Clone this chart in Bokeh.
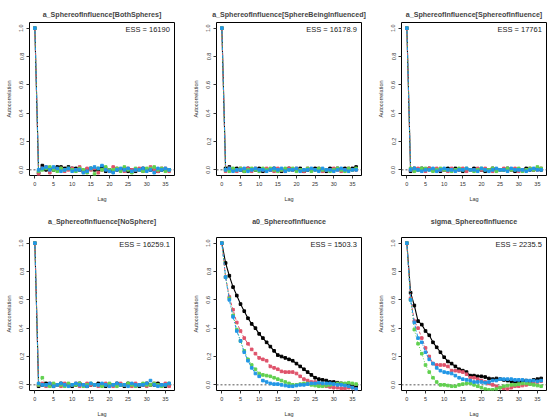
from bokeh.plotting import figure
from bokeh.layouts import row, column
from bokeh.models import Range1d, FixedTicker, PrintfTickFormatter, Span, Label, Title
from bokeh.embed import file_html
from bokeh.resources import INLINE

lags = list(range(37))

titles = ["a_SphereofInfluence[BothSpheres]", "a_SphereofInfluence[SphereBeingInfluenced]",
          "a_SphereofInfluence[SphereofInfluence]", "a_SphereofInfluence[NoSphere]",
          "a0_SphereofInfluence", "sigma_SphereofInfluence"]
ess_labels = ["ESS = 16190", "ESS = 16178.9", "ESS = 17761",
              "ESS = 16259.1", "ESS = 1503.3", "ESS = 2235.5"]

blk1 = [1.00, -0.02, 0.03, 0.00, 0.01, 0.00, 0.02, 0.02, 0.01, 0.02,
        0.01, 0.01, 0.00, -0.01, 0.00, 0.01, 0.00, 0.00, 0.02, -0.01,
        0.00, -0.01, 0.00, 0.00, 0.01, -0.01, 0.00, -0.01, 0.00, 0.01,
        0.00, 0.00, 0.00, -0.01, 0.00, 0.00, 0.00]
red1 = [1.00, -0.03, 0.01, 0.02, -0.02, 0.01, 0.00, 0.01, -0.01, 0.00,
        0.01, 0.00, 0.02, -0.01, 0.01, 0.00, 0.01, -0.02, 0.00, 0.01,
        -0.01, 0.02, 0.01, 0.00, -0.01, 0.01, 0.00, 0.00, 0.01, -0.01,
        0.00, 0.02, 0.00, -0.01, 0.01, 0.01, -0.01]
grn1 = [1.00, -0.01, 0.00, 0.01, 0.02, 0.00, -0.01, 0.01, 0.00, 0.01,
        0.00, -0.01, 0.01, 0.00, -0.02, 0.01, -0.03, 0.01, 0.00, 0.02,
        0.00, 0.00, 0.01, -0.01, 0.02, 0.00, -0.02, 0.01, 0.00, -0.01,
        0.01, 0.01, 0.02, 0.00, 0.01, -0.01, 0.00]
blu1 = [1.00, 0.00, 0.01, 0.02, 0.00, 0.02, 0.01, -0.01, 0.00, 0.01,
        -0.01, 0.00, 0.00, -0.02, -0.01, 0.01, 0.02, 0.01, 0.03, 0.00,
        -0.01, -0.02, 0.00, 0.01, 0.00, 0.01, -0.01, 0.00, 0.00, 0.01,
        -0.01, 0.00, -0.02, 0.01, 0.00, 0.01, 0.00]

blk2 = [1.00, 0.01, 0.02, 0.00, 0.01, 0.00, -0.01, 0.01, 0.00, 0.00,
        0.01, -0.01, 0.00, 0.00, 0.01, 0.00, -0.01, 0.00, 0.01, 0.00,
        0.00, 0.01, -0.01, 0.00, 0.00, 0.01, 0.00, 0.00, -0.01, 0.01,
        0.00, 0.01, 0.00, 0.01, 0.00, 0.01, 0.02]
red2 = [1.00, -0.01, 0.01, 0.00, -0.01, 0.01, 0.00, 0.01, -0.01, 0.01,
        0.00, 0.00, 0.01, 0.00, -0.01, 0.01, 0.00, -0.01, 0.01, 0.00,
        0.01, 0.00, -0.01, 0.01, 0.00, 0.00, 0.01, -0.01, 0.00, 0.00,
        0.01, 0.00, -0.01, 0.00, 0.01, 0.00, 0.00]
grn2 = [1.00, 0.00, -0.01, 0.01, 0.00, 0.01, -0.01, 0.00, 0.01, 0.00,
        -0.01, 0.01, 0.00, 0.01, 0.00, -0.01, 0.00, 0.01, 0.00, 0.01,
        -0.01, 0.00, 0.00, 0.01, -0.01, 0.00, 0.01, 0.00, 0.00, -0.01,
        0.00, 0.01, 0.00, -0.01, 0.01, 0.00, 0.01]
blu2 = [1.00, 0.00, 0.01, -0.01, 0.00, 0.00, 0.01, -0.01, 0.00, 0.01,
        0.00, 0.00, -0.01, 0.00, 0.01, 0.00, 0.01, -0.01, 0.00, 0.00,
        0.01, -0.01, 0.00, 0.00, 0.01, 0.00, -0.01, 0.01, 0.00, 0.00,
        -0.01, 0.00, 0.01, 0.00, -0.01, 0.00, 0.00]

blk3 = [1.00, -0.01, 0.01, 0.00, 0.01, 0.00, 0.01, 0.00, 0.00, -0.01,
        0.00, 0.01, 0.00, 0.01, 0.00, -0.01, 0.00, 0.00, 0.01, 0.00,
        0.00, -0.01, 0.00, 0.01, 0.00, 0.00, 0.00, 0.01, 0.00, -0.01,
        0.00, 0.00, 0.01, 0.00, 0.00, 0.01, 0.00]
red3 = [1.00, 0.00, 0.00, 0.01, 0.00, -0.01, 0.01, 0.00, 0.01, 0.00,
        0.00, -0.01, 0.01, 0.00, 0.00, 0.01, -0.01, 0.00, 0.00, 0.01,
        0.00, 0.01, 0.00, -0.01, 0.00, 0.00, 0.01, 0.00, 0.00, 0.01,
        -0.01, 0.00, 0.00, 0.01, 0.00, 0.00, 0.01]
grn3 = [1.00, 0.01, -0.01, 0.00, 0.01, 0.01, 0.00, -0.01, 0.00, 0.01,
        0.00, 0.00, -0.01, 0.00, 0.01, 0.00, 0.01, 0.00, -0.01, 0.00,
        0.01, 0.00, 0.00, 0.01, -0.01, 0.00, 0.00, 0.01, 0.00, 0.00,
        0.01, -0.01, 0.00, 0.01, 0.00, 0.02, 0.01]
blu3 = [1.00, 0.00, 0.01, 0.00, -0.01, 0.00, 0.00, 0.01, -0.01, 0.00,
        0.01, 0.00, 0.00, -0.01, 0.00, 0.00, 0.01, 0.00, 0.00, -0.01,
        0.01, 0.00, -0.01, 0.00, 0.01, 0.00, 0.00, -0.01, 0.01, 0.00,
        0.00, 0.00, -0.01, 0.00, 0.01, 0.00, 0.00]

blk4 = [1.00, -0.01, 0.00, 0.01, 0.00, -0.01, 0.00, 0.01, 0.00, 0.00,
        -0.01, 0.00, 0.01, 0.00, -0.01, 0.00, 0.00, 0.01, 0.00, -0.01,
        0.00, 0.00, 0.01, 0.00, -0.01, 0.01, 0.00, 0.00, -0.01, 0.00,
        0.01, 0.00, 0.00, 0.01, 0.00, -0.01, 0.00]
red4 = [1.00, 0.00, 0.01, -0.01, 0.01, 0.00, 0.00, -0.01, 0.01, 0.00,
        0.00, 0.01, -0.01, 0.00, 0.01, 0.00, 0.00, -0.01, 0.00, 0.01,
        0.00, -0.01, 0.00, 0.01, 0.00, 0.00, -0.01, 0.01, 0.00, 0.00,
        -0.01, 0.00, 0.01, 0.00, 0.00, 0.01, -0.01]
grn4 = [1.00, 0.00, 0.05, 0.00, -0.01, 0.01, 0.00, 0.00, -0.01, 0.01,
        0.00, 0.00, 0.01, -0.01, 0.00, 0.01, 0.00, 0.00, -0.01, 0.00,
        0.01, 0.00, -0.01, 0.00, 0.00, 0.01, 0.00, -0.01, 0.00, 0.01,
        0.00, 0.00, 0.01, 0.00, -0.01, 0.00, 0.01]
blu4 = [1.00, 0.01, 0.00, 0.00, 0.01, -0.01, 0.00, 0.01, 0.00, -0.01,
        0.00, 0.01, 0.00, 0.00, -0.01, 0.01, 0.00, 0.00, 0.01, 0.00,
        -0.01, 0.00, 0.01, 0.00, 0.00, -0.01, 0.01, 0.00, 0.00, 0.00,
        0.01, 0.03, 0.00, -0.01, 0.00, 0.00, 0.01]

blk5 = [1.00, 0.86, 0.77, 0.69, 0.63, 0.57, 0.52, 0.47, 0.43, 0.40,
        0.36, 0.33, 0.30, 0.27, 0.24, 0.21, 0.20, 0.19, 0.18, 0.17,
        0.15, 0.13, 0.11, 0.09, 0.07, 0.05, 0.04, 0.035, 0.03, 0.02,
        0.02, 0.015, 0.01, 0.005, 0.00, -0.01, -0.015]
red5 = [1.00, 0.76, 0.62, 0.53, 0.44, 0.38, 0.33, 0.29, 0.25, 0.22,
        0.19, 0.18, 0.17, 0.13, 0.12, 0.11, 0.095, 0.09, 0.09, 0.09,
        0.08, 0.06, 0.04, 0.03, 0.02, 0.02, 0.01, 0.00, -0.01, -0.015,
        -0.02, -0.02, -0.025, -0.025, -0.02, -0.02, -0.03]
grn5 = [1.00, 0.76, 0.61, 0.49, 0.39, 0.31, 0.24, 0.18, 0.14, 0.11,
        0.08, 0.07, 0.065, 0.06, 0.05, 0.04, 0.03, 0.02, 0.01, 0.00,
        0.00, 0.005, 0.01, 0.01, 0.00, -0.005, -0.01, -0.01, -0.005, 0.00,
        0.005, 0.01, 0.01, 0.01, 0.015, 0.01, 0.005]
blu5 = [1.00, 0.76, 0.60, 0.48, 0.38, 0.31, 0.23, 0.17, 0.12, 0.08,
        0.06, 0.03, 0.02, 0.01, 0.005, 0.005, 0.00, -0.005, -0.01, -0.01,
        -0.005, 0.00, 0.00, 0.005, 0.01, 0.01, 0.015, 0.01, 0.01, 0.01,
        0.005, 0.00, 0.00, -0.005, -0.01, -0.02, -0.03]

blk6 = [1.00, 0.65, 0.56, 0.45, 0.425, 0.38, 0.35, 0.30, 0.265, 0.23,
        0.195, 0.165, 0.15, 0.13, 0.11, 0.10, 0.09, 0.065, 0.065, 0.06,
        0.06, 0.055, 0.045, 0.04, 0.045, 0.04, 0.035, 0.03, 0.025, 0.02,
        0.02, 0.025, 0.03, 0.025, 0.035, 0.04, 0.045]
red6 = [1.00, 0.61, 0.45, 0.40, 0.33, 0.26, 0.20, 0.15, 0.14, 0.14,
        0.14, 0.13, 0.10, 0.10, 0.095, 0.09, 0.075, 0.05, 0.05, 0.04,
        0.03, 0.02, 0.01, 0.00, -0.01, -0.02, -0.025, -0.03, -0.02, -0.01,
        -0.01, -0.005, 0.00, 0.005, 0.01, 0.02, 0.025]
grn6 = [1.00, 0.60, 0.39, 0.29, 0.22, 0.14, 0.09, 0.05, 0.02, 0.00,
        0.00, -0.005, -0.01, -0.01, 0.00, 0.005, 0.01, 0.01, 0.00, -0.01,
        -0.02, -0.03, -0.035, -0.035, -0.03, -0.02, -0.01, -0.005, 0.00, 0.00,
        0.005, 0.01, 0.01, 0.005, 0.00, -0.005, -0.01]
blu6 = [1.00, 0.60, 0.44, 0.33, 0.30, 0.23, 0.18, 0.15, 0.12, 0.10,
        0.09, 0.085, 0.08, 0.065, 0.05, 0.04, 0.035, 0.03, 0.02, 0.02,
        0.02, 0.015, 0.02, 0.03, 0.03, 0.04, 0.04, 0.04, 0.04, 0.035,
        0.035, 0.035, 0.03, 0.03, 0.03, 0.025, 0.03]

panels = [(blk1, red1, grn1, blu1), (blk2, red2, grn2, blu2), (blk3, red3, grn3, blu3),
          (blk4, red4, grn4, blu4), (blk5, red5, grn5, blu5), (blk6, red6, grn6, blu6)]

chain_colors = ["black", "#DF536B", "#61D04F", "#2297E6"]
chain_dash = ["solid", "3 2", "1 2", "1 2 3 2"]
chain_width = [1.1, 1, 1, 1]

FONT = "Liberation Sans"
FW, FH = 145, 153
col_borders = [(29, 10), (32, 5), (35, 2)]
row_borders = [(22, 35), (27, 28)]


def make_panel(i):
    r, c = divmod(i, 3)
    bl, br = col_borders[c]
    bt, bb = row_borders[r]
    p = figure(frame_width=FW, frame_height=FH, output_backend="svg", toolbar_location=None,
               x_range=Range1d(-1.44, 37.44), y_range=Range1d(-0.04, 1.04),
               min_border_left=bl, min_border_right=br, min_border_top=bt, min_border_bottom=bb,
               title=titles[i])
    p.title.text_font = FONT
    p.title.text_font_size = "7.1px"
    p.title.text_font_style = "bold"
    p.title.align = "center"
    p.title.standoff = 8
    if r == 1:
        p.add_layout(Title(text=" ", text_font_size="5px", standoff=0), "above")
    p.grid.visible = False
    p.outline_line_color = "black"
    p.outline_line_width = 1
    p.background_fill_color = "white"
    p.border_fill_color = "white"

    for ax in (p.xaxis[0], p.yaxis[0]):
        ax.axis_line_color = None
        ax.major_tick_line_color = "#333333"
        ax.major_tick_in = 0
        ax.major_tick_out = 3
        ax.minor_tick_line_color = None
        ax.major_label_text_font = FONT
        ax.major_label_text_font_size = "5.5px"
        ax.major_label_text_color = "#333333"
        ax.axis_label_text_font = FONT
        ax.axis_label_text_font_size = "5.5px"
        ax.axis_label_text_font_style = "normal"
        ax.axis_label_text_color = "#333333"
        ax.major_label_standoff = 3
        ax.axis_label_standoff = 5
    p.xaxis.axis_label_standoff = 7
    p.xaxis.ticker = FixedTicker(ticks=[0, 5, 10, 15, 20, 25, 30, 35])
    p.yaxis.ticker = FixedTicker(ticks=[0.0, 0.2, 0.4, 0.6, 0.8, 1.0])
    p.yaxis.formatter = PrintfTickFormatter(format="%.1f")
    p.yaxis.major_label_orientation = "vertical"
    p.xaxis.axis_label = "Lag"
    p.yaxis.axis_label = "Autocorrelation"

    p.add_layout(Span(location=0, dimension="width", line_color="#555555",
                      line_dash="2 2", line_width=1, level="underlay"))

    for series, col, dash, lw in zip(panels[i], chain_colors, chain_dash, chain_width):
        p.line(lags, series, line_color=col, line_dash=dash, line_width=lw)
        p.scatter(lags, series, marker="square", size=2.6, fill_color=col, line_color=col)

    p.add_layout(Label(x=36.2, y=0.99, text=ess_labels[i], text_align="right",
                       text_baseline="middle", text_font=FONT, text_font_size="7.5px",
                       text_color="#222222"))
    return p


figs = [make_panel(i) for i in range(6)]
layout = column(row(*figs[:3]), row(*figs[3:]))

open("out.html", "w").write(file_html(layout, INLINE))
